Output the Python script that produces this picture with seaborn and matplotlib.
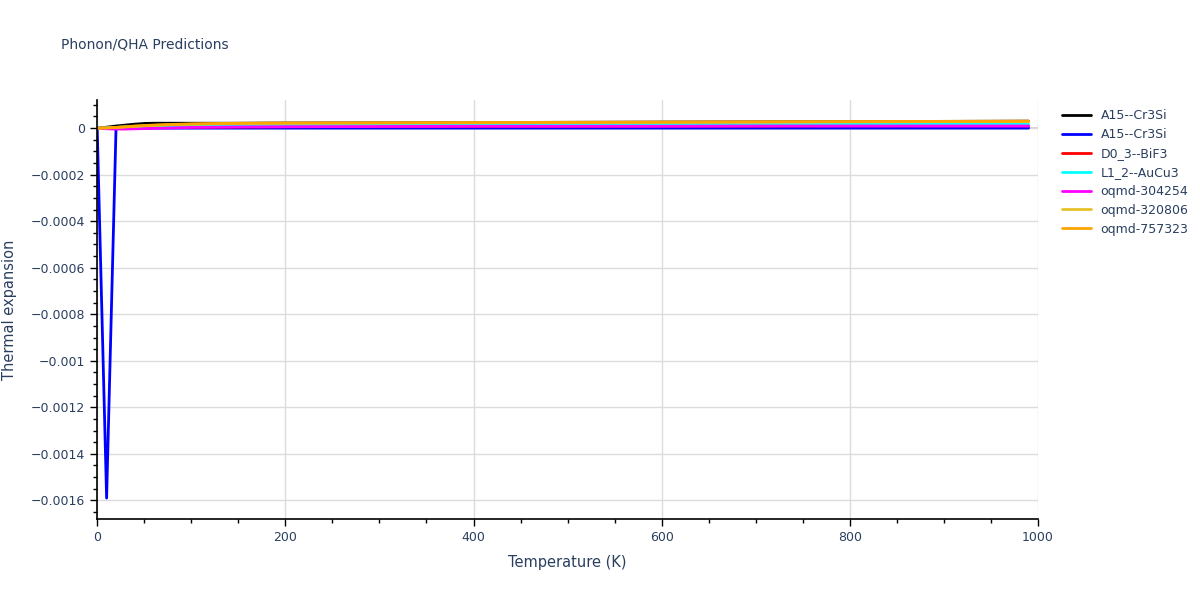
import matplotlib
matplotlib.use("Agg")
import matplotlib.pyplot as plt
import seaborn as sns
import numpy as np
import pandas as pd
from matplotlib.ticker import MultipleLocator, FuncFormatter

# ---- data (thermal expansion) ----
temps = [0, 10, 20, 30, 40, 50, 60, 80, 100, 150, 200, 300, 400, 500, 600, 700, 800, 900, 990]

a15_black = [0, 0.4e-5, 0.9e-5, 1.3e-5, 1.7e-5, 2.0e-5, 2.1e-5, 2.1e-5, 2.1e-5, 2.1e-5, 2.2e-5,
             2.3e-5, 2.4e-5, 2.5e-5, 2.6e-5, 2.7e-5, 2.8e-5, 2.9e-5, 3.0e-5]
a15_blue = [0, -0.00159, -0.2e-5, -0.1e-5, 0, 0, 0, 0, 0, 0, 0,
            0, 0, 0, 0, 0, 0, 0, 0]
d03_red = [0, -0.1e-5, -0.2e-5, -0.1e-5, 0, 0.1e-5, 0.2e-5, 0.3e-5, 0.4e-5, 0.5e-5, 0.6e-5,
           0.7e-5, 0.8e-5, 0.8e-5, 0.9e-5, 0.9e-5, 1.0e-5, 1.0e-5, 1.0e-5]
l12_cyan = [0, 0.1e-5, 0.3e-5, 0.5e-5, 0.6e-5, 0.7e-5, 0.8e-5, 1.0e-5, 1.1e-5, 1.2e-5, 1.3e-5,
            1.4e-5, 1.4e-5, 1.5e-5, 1.5e-5, 1.5e-5, 1.6e-5, 1.6e-5, 1.6e-5]
oqmd_304254 = [0, -0.3e-5, -0.4e-5, -0.4e-5, -0.3e-5, -0.2e-5, -0.1e-5, 0.1e-5, 0.3e-5, 0.5e-5, 0.6e-5,
               0.7e-5, 0.8e-5, 0.8e-5, 0.8e-5, 0.9e-5, 0.9e-5, 0.9e-5, 0.9e-5]
oqmd_320806 = [0, 0.1e-5, 0.3e-5, 0.5e-5, 0.8e-5, 1.0e-5, 1.2e-5, 1.5e-5, 1.7e-5, 2.0e-5, 2.1e-5,
               2.2e-5, 2.3e-5, 2.4e-5, 2.5e-5, 2.6e-5, 2.7e-5, 2.8e-5, 2.8e-5]
oqmd_757323 = [0, 0.1e-5, 0.3e-5, 0.6e-5, 0.9e-5, 1.1e-5, 1.3e-5, 1.6e-5, 1.8e-5, 2.1e-5, 2.2e-5,
               2.3e-5, 2.4e-5, 2.5e-5, 2.6e-5, 2.7e-5, 2.8e-5, 2.9e-5, 3.0e-5]

series_names = ["A15--Cr3Si", "A15--Cr3Si", "D0_3--BiF3", "L1_2--AuCu3",
                "oqmd-304254", "oqmd-320806", "oqmd-757323"]
series_values = [a15_black, a15_blue, d03_red, l12_cyan, oqmd_304254, oqmd_320806, oqmd_757323]
series_colors = ["#000000", "#0000ff", "#ff0000", "#00ffff", "#ff00ff", "#e6c229", "#ffa500"]

x_ticks = [0, 200, 400, 600, 800, 1000]
y_ticks = [0, -0.0002, -0.0004, -0.0006, -0.0008, -0.001, -0.0012, -0.0014, -0.0016]

# ---- plot ----
sns.set_theme(style="white")
plt.rcParams["font.family"] = ["DejaVu Sans"]
text_color = "#2a3f5f"

fig = plt.figure(figsize=(12, 6), dpi=100)
ax = fig.add_axes([0.081, 0.135, 0.784, 0.698])

for name, vals, col in zip(series_names, series_values, series_colors):
    df = pd.DataFrame({"T": temps, "v": vals})
    sns.lineplot(data=df, x="T", y="v", ax=ax, color=col, linewidth=2, label=name)

ax.set_xlim(0, 1000)
ax.set_ylim(-0.00168, 0.00012)
ax.set_xticks(x_ticks)
ax.set_yticks(y_ticks)
ax.xaxis.set_minor_locator(MultipleLocator(50))
ax.yaxis.set_minor_locator(MultipleLocator(0.00005))
ax.yaxis.set_major_formatter(FuncFormatter(lambda v, p: ("%g" % v).replace("-", "\u2212") if abs(v) > 1e-12 else "0"))

ax.grid(True, which="major", color="#dcdcdc", linewidth=1)
ax.axhline(0, color="#c8c8c8", linewidth=1.2, zorder=0.5)
ax.set_axisbelow(True)
for side in ["top", "right"]:
    ax.spines[side].set_visible(False)
for side in ["left", "bottom"]:
    ax.spines[side].set_color("black")
    ax.spines[side].set_linewidth(1.2)

ax.tick_params(axis="both", which="major", direction="out", length=5, width=1,
               color="black", labelsize=9, labelcolor=text_color, left=True, bottom=True)
ax.tick_params(axis="both", which="minor", direction="out", length=3, width=1,
               color="black", left=True, bottom=True)

ax.set_xlabel("Temperature (K)", fontsize=10.5, color=text_color, labelpad=8)
ax.set_ylabel("Thermal expansion", fontsize=10.5, color=text_color, labelpad=10)

fig.text(0.051, 0.925, "Phonon/QHA Predictions", fontsize=10, color=text_color, va="center")

leg = ax.legend(loc="upper left", bbox_to_anchor=(1.02, 0.99), frameon=False,
                fontsize=9, handlelength=2.3, labelspacing=0.47, borderaxespad=0.0)
for t in leg.get_texts():
    t.set_color(text_color)

fig.savefig("out.png", dpi=100)
